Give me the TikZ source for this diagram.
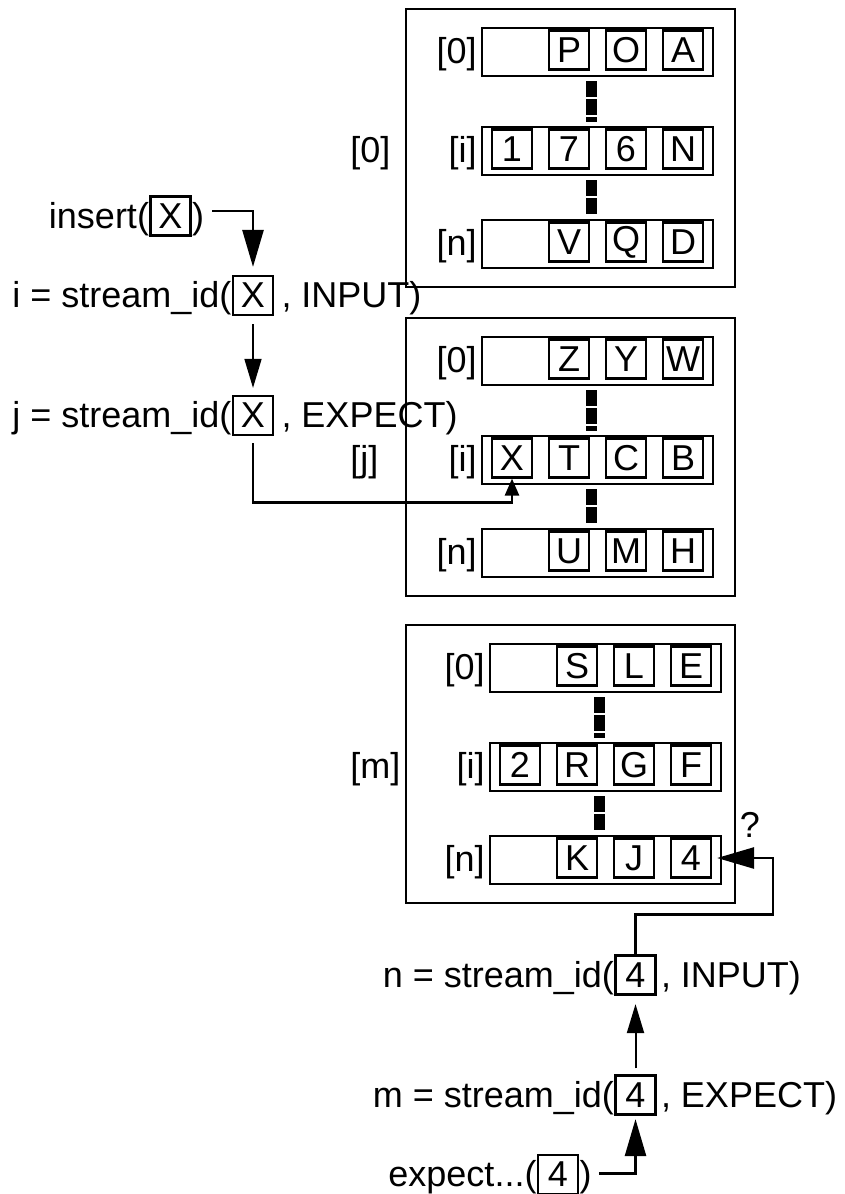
\documentclass[tikz,border=0pt]{standalone}
\usepackage{fontspec}
\setmainfont{Liberation Sans}
\usetikzlibrary{arrows.meta}

\tikzset{
  frame/.style={draw,line width=1pt},
  cell/.style={draw,line width=1.1pt,minimum width=20pt,minimum height=19.5pt,inner sep=0pt},
  code/.style={inner sep=0pt},
  rowgap/.style={line width=5.5pt,dash pattern=on 8pt off 1pt},
  wire/.style={line width=1.3pt},
  thinwire/.style={line width=0.8pt},
  bigtip/.style={-{Triangle[length=18.5pt,width=10.5pt]}},
  midtip/.style={-{Triangle[length=14.5pt,width=8.5pt]}},
  smalltip/.style={-{Triangle[length=8.5pt,width=7pt]}},
}

\begin{document}
\begin{tikzpicture}[x=0.5pt,y=-0.5pt,font=\fontsize{18}{22}\selectfont]
\useasboundingbox (0,0) rectangle (845,1194);

% three stream tables, each with rows [0], [i], [n]
\foreach \st/\ytop/\dx/\tag/\rowa/\rowb/\rowc in {
    1/9/0/0/{2/P,3/O,4/A}/{1/1,2/7,3/6,4/N}/{2/V,3/Q,4/D},
    2/318/0/j/{2/Z,3/Y,4/W}/{1/X,2/T,3/C,4/B}/{2/U,3/M,4/H},
    3/625/8/m/{2/S,3/L,4/E}/{1/2,2/R,3/G,4/F}/{2/K,3/J,4/4}}{
  \draw[frame] (406,\ytop) rectangle (735,\ytop+278);
  \node[code,anchor=base west] at (350,\ytop+153) {[\tag]};
  \foreach \r/\off in {0/19,i/118,n/211}{
    \draw[frame] (482+\dx,\ytop+\off) rectangle (713+\dx,\ytop+\off+48);
    \node[code,anchor=base east] at (477+\dx,\ytop+\off+35) {[\r]};
  }
  \foreach \a/\b in {67/118,166/211}
    \draw[rowgap] (591+\dx,\ytop+\a+5) -- (591+\dx,\ytop+\b-5);
  \foreach \k/\ch in \rowa \node[cell] (s\st-0-\k) at (455+\dx+57*\k,\ytop+41) {\ch};
  \foreach \k/\ch in \rowb \node[cell] (s\st-i-\k) at (455+\dx+57*\k,\ytop+140) {\ch};
  \foreach \k/\ch in \rowc \node[cell] (s\st-n-\k) at (455+\dx+57*\k,\ytop+233) {\ch};
}

% insertion side
\node[cell] (insX) at (170.5,216) {X};
\node[code,anchor=base east] (insL) at (insX.base west) {insert(};
\node[code,anchor=base west] (insR) at (insX.base east) {)};

\node[cell] (iX) at (253,295.5) {X};
\node[code,anchor=base east] (iL) at (iX.base west) {i = stream\_id(};
\node[code,anchor=base west] (iR) at ([xshift=3.5pt]iX.base east) {, INPUT)};

\node[cell] (jX) at (253,415.5) {X};
\node[code,anchor=base east] (jL) at (jX.base west) {j = stream\_id(};
\node[code,anchor=base west] (jR) at ([xshift=3.5pt]jX.base east) {, EXPECT)};

\draw[wire,bigtip] ([xshift=4pt,yshift=4pt]insR.east) -| ([yshift=4pt]iX.north);
\draw[thinwire,midtip] ([yshift=-4pt]iX.south) -- ([yshift=3.5pt]jX.north);
\draw[wire,smalltip] ([yshift=-3.5pt]jX.south) |- ([yshift=-12pt]s2-i-1.south) -- (s2-i-1.south);

% lookup side
\node[cell] (nF) at (635.5,975) {4};
\node[code,anchor=base east] (nL) at (nF.base west) {n = stream\_id(};
\node[code,anchor=base west] (nR) at ([xshift=2pt]nF.base east) {, INPUT)};

\node[cell] (mF) at (635.5,1095) {4};
\node[code,anchor=base east] (mL) at (mF.base west) {m = stream\_id(};
\node[code,anchor=base west] (mR) at ([xshift=2pt]mF.base east) {, EXPECT)};

\node[cell] (eF) at (558,1174.5) {4};
\node[code,anchor=base east] (eL) at (eF.base west) {expect...(};
\node[code,anchor=base west] (eR) at (eF.base east) {)};

\node[code] (ask) at (750,825) {?};

\draw[wire,bigtip] ([xshift=3.5pt,yshift=2pt]eR.east) -| ([yshift=-1.75pt]mF.south);
\draw[line width=1pt,midtip] ([yshift=3pt]mF.north) -- ([yshift=-4.25pt]nF.south);
\draw[wire,bigtip] (nF.north) -- ++(0,-40) -| ([xshift=30.5pt]s3-n-4.east) -- ([xshift=2.5pt]s3-n-4.east);
\end{tikzpicture}
\end{document}
